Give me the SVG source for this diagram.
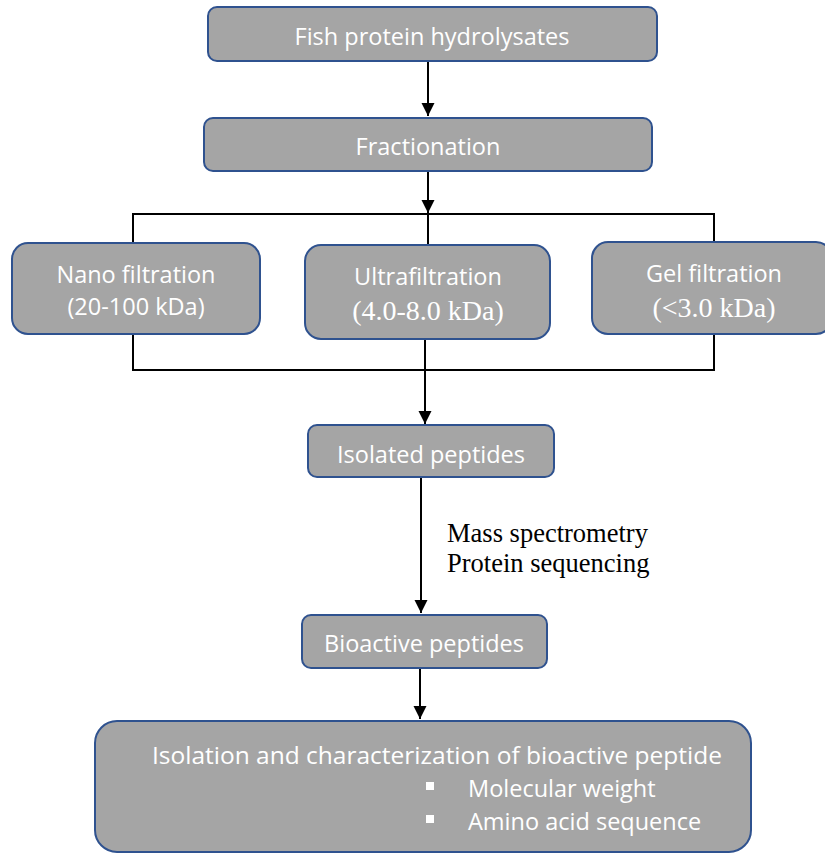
<svg xmlns="http://www.w3.org/2000/svg" width="825" height="854" viewBox="0 0 825 854">
<defs>
<style>
.box{fill:#a5a5a5;stroke:#2f528f;stroke-width:2}
.t{fill:#ffffff;font-family:"Open Sans","Noto Sans",sans-serif;font-size:23.5px;text-anchor:middle}
.tr{fill:#ffffff;font-family:"Liberation Serif",serif;font-size:28px;text-anchor:middle}
.ln{stroke:#000;stroke-width:2;fill:none}
.lab{fill:#000;font-family:"Liberation Serif",serif;font-size:26.5px}
</style>
<marker id="ah" viewBox="0 0 10 10" refX="10" refY="5" markerWidth="6.5" markerHeight="7" markerUnits="strokeWidth" orient="auto">
<path d="M0,0 L10,5 L0,10 z" fill="#000"/>
</marker>
</defs>
<rect width="825" height="854" fill="#ffffff"/>
<g id="connectors">
<line class="ln" x1="428" y1="62" x2="428" y2="116" marker-end="url(#ah)"/>
<line class="ln" x1="428" y1="172" x2="428" y2="213" marker-end="url(#ah)"/>
<polyline class="ln" points="133,243 133,214 714,214 714,242"/>
<line class="ln" x1="428" y1="214" x2="428" y2="245"/>
<polyline class="ln" points="133,334 133,370 714,370 714,334"/>
<line class="ln" x1="425" y1="339" x2="425" y2="424" marker-end="url(#ah)"/>
<line class="ln" x1="421" y1="478" x2="421" y2="613" marker-end="url(#ah)"/>
<line class="ln" x1="420" y1="669" x2="420" y2="719" marker-end="url(#ah)"/>
</g>
<g id="n-fish"><rect class="box" x="208" y="7" width="449" height="54" rx="9"/><text class="t" x="432" y="45">Fish protein hydrolysates</text></g>
<g id="n-fract"><rect class="box" x="204" y="118" width="448" height="53" rx="9"/><text class="t" x="428" y="155">Fractionation</text></g>
<g id="n-nano"><rect class="box" x="12" y="243" width="248" height="91" rx="16"/><text class="t" x="136" y="283">Nano filtration</text><text class="t" x="136" y="315">(20-100 kDa)</text></g>
<g id="n-ultra"><rect class="box" x="305" y="245" width="245" height="94" rx="16"/><text class="t" x="428" y="285">Ultrafiltration</text><text class="tr" x="428" y="320">(4.0-8.0 kDa)</text></g>
<g id="n-gel"><rect class="box" x="592" y="242" width="240" height="92" rx="16"/><text class="t" x="714" y="282">Gel filtration</text><text class="tr" x="714" y="317">(&lt;3.0 kDa)</text></g>
<g id="n-iso"><rect class="box" x="308" y="425" width="246" height="52" rx="9"/><text class="t" x="431" y="463">Isolated peptides</text></g>
<text class="lab" x="447" y="542">Mass spectrometry</text>
<text class="lab" x="447" y="572">Protein sequencing</text>
<g id="n-bio"><rect class="box" x="302" y="615" width="245" height="53" rx="9"/><text class="t" x="424" y="652">Bioactive peptides</text></g>
<g id="n-final"><rect class="box" x="95" y="721" width="656" height="131" rx="22"/>
<text class="t" x="437" y="764" style="font-size:24.5px">Isolation and characterization of bioactive peptide</text>
<rect x="426" y="782" width="8" height="8" fill="#fff"/>
<text class="t" x="468" y="797" style="text-anchor:start">Molecular weight</text>
<rect x="426" y="815" width="8" height="8" fill="#fff"/>
<text class="t" x="468" y="830" style="text-anchor:start">Amino acid sequence</text>
</g>
</svg>
